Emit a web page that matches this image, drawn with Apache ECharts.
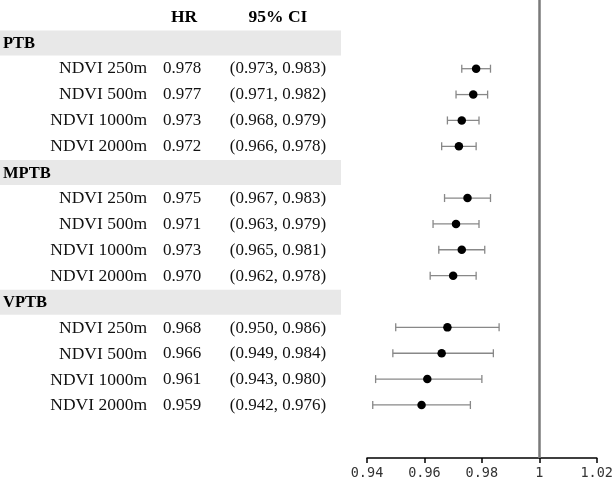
<!DOCTYPE html>
<html>
<head>
<meta charset="utf-8">
<script src="https://cdn.jsdelivr.net/npm/echarts@6/dist/echarts.min.js"></script>
<style>html,body{margin:0;padding:0;background:#fff}#c{width:616px;height:480px}</style>
</head>
<body>
<div id="c"></div>
<script>
var groups = ['PTB', 'MPTB', 'VPTB'];
var exposures = ['NDVI 250m', 'NDVI 500m', 'NDVI 1000m', 'NDVI 2000m'];
var hrValues = [
  [0.978, 0.977, 0.973, 0.972],
  [0.975, 0.971, 0.973, 0.970],
  [0.968, 0.966, 0.961, 0.959]
];
var ciLower = [
  [0.973, 0.971, 0.968, 0.966],
  [0.967, 0.963, 0.965, 0.962],
  [0.950, 0.949, 0.943, 0.942]
];
var ciUpper = [
  [0.983, 0.982, 0.979, 0.978],
  [0.983, 0.979, 0.981, 0.978],
  [0.986, 0.984, 0.980, 0.976]
];
var xTicks = [0.94, 0.96, 0.98, 1, 1.02];
var headers = ['HR', '95% CI'];

// build rows
var groupRows = [];   // [row, name]
var itemRows = [];    // [row, label, hr, lo, hi]
var r = 1;
groups.forEach(function (g, gi) {
  groupRows.push([r, g]);
  r++;
  exposures.forEach(function (e, ei) {
    itemRows.push([r, e, hrValues[gi][ei], ciLower[gi][ei], ciUpper[gi][ei]]);
    r++;
  });
});

var fmt3 = function (v) { return v.toFixed(3); };
var serif = 'Liberation Serif';
var COL_LABEL = 147, COL_HR = 182, COL_CI = 278;

var yAx = function (gi) {
  return { gridIndex: gi, type: 'value', inverse: true, min: -0.656, max: 17.05, show: false };
};

var chart = echarts.init(document.getElementById('c'));
chart.setOption({
  animation: false,
  grid: [
    { left: 0, right: 276, top: 0, bottom: 21 },
    { left: 367, right: 16, top: 0, bottom: 21 }
  ],
  xAxis: [
    { gridIndex: 0, type: 'value', min: 0, max: 340, show: false },
    {
      gridIndex: 1, type: 'value', min: 0.94, max: 1.02, interval: 0.02,
      axisLine: { show: true, onZero: false, lineStyle: { color: '#000', width: 1.5 } },
      axisTick: { show: true, inside: false, length: 5, lineStyle: { color: '#000', width: 1.5 } },
      splitLine: { show: false },
      axisLabel: {
        color: '#333', fontFamily: 'DejaVu Sans Mono', fontSize: 13.5, margin: 8,
        formatter: function (v) {
          var s = xTicks.filter(function (t) { return Math.abs(t - v) < 1e-9; });
          return s.length ? String(s[0]) : '';
        }
      }
    }
  ],
  yAxis: [yAx(0), yAx(1)],
  series: [
    {
      type: 'custom', xAxisIndex: 0, yAxisIndex: 0, silent: true,
      data: groupRows,
      renderItem: function (params, api) {
        var row = api.value(0);
        var p0 = api.coord([0, row]);
        var p1 = api.coord([340, row]);
        return {
          type: 'group',
          children: [
            { type: 'rect', shape: { x: p0[0], y: p0[1] - 12.5, width: p1[0] - p0[0] + 1, height: 25 },
              style: { fill: '#e8e8e8' } },
            { type: 'text', style: { x: p0[0] + 3, y: p0[1] + 1, text: groupRows[params.dataIndex][1],
              font: 'bold 16.5px ' + serif, fill: '#000', textAlign: 'left', textVerticalAlign: 'middle' } }
          ]
        };
      }
    },
    {
      type: 'custom', xAxisIndex: 0, yAxisIndex: 0, silent: true,
      data: [[0]],
      renderItem: function (params, api) {
        var pH = api.coord([COL_HR + 2, 0]);
        var pC = api.coord([COL_CI, 0]);
        return {
          type: 'group',
          children: [
            { type: 'text', style: { x: pH[0], y: pH[1], text: headers[0], font: 'bold 17.5px ' + serif,
              fill: '#000', textAlign: 'center', textVerticalAlign: 'middle' } },
            { type: 'text', style: { x: pC[0], y: pC[1], text: headers[1], font: 'bold 17.5px ' + serif,
              fill: '#000', textAlign: 'center', textVerticalAlign: 'middle' } }
          ]
        };
      }
    },
    {
      type: 'custom', xAxisIndex: 0, yAxisIndex: 0, silent: true,
      data: itemRows.map(function (d) { return [d[0]]; }),
      renderItem: function (params, api) {
        var d = itemRows[params.dataIndex];
        var row = api.value(0);
        var pL = api.coord([COL_LABEL, row]);
        var pH = api.coord([COL_HR, row]);
        var pC = api.coord([COL_CI, row]);
        var st = { fill: '#111', textVerticalAlign: 'middle' };
        return {
          type: 'group',
          children: [
            { type: 'text', style: Object.assign({ x: pL[0], y: pL[1], text: d[1], textAlign: 'right', font: '17.5px ' + serif }, st) },
            { type: 'text', style: Object.assign({ x: pH[0], y: pH[1], text: fmt3(d[2]), textAlign: 'center', font: '17px ' + serif }, st) },
            { type: 'text', style: Object.assign({ x: pC[0], y: pC[1], text: '(' + fmt3(d[3]) + ', ' + fmt3(d[4]) + ')', textAlign: 'center', font: '17px ' + serif }, st) }
          ]
        };
      }
    },
    {
      type: 'custom', xAxisIndex: 1, yAxisIndex: 1, silent: true,
      data: itemRows.map(function (d) { return [d[3], d[4], d[0]]; }),
      renderItem: function (params, api) {
        var a = api.coord([api.value(0), api.value(2)]);
        var b = api.coord([api.value(1), api.value(2)]);
        var ls = { stroke: '#888', lineWidth: 1.3 };
        return {
          type: 'group',
          children: [
            { type: 'line', shape: { x1: a[0], y1: a[1], x2: b[0], y2: b[1] }, style: ls },
            { type: 'line', shape: { x1: a[0], y1: a[1] - 4, x2: a[0], y2: a[1] + 4 }, style: ls },
            { type: 'line', shape: { x1: b[0], y1: b[1] - 4, x2: b[0], y2: b[1] + 4 }, style: ls }
          ]
        };
      }
    },
    {
      type: 'scatter', xAxisIndex: 1, yAxisIndex: 1, silent: true,
      symbol: 'circle', symbolSize: 8.5,
      itemStyle: { color: '#000', opacity: 1 },
      data: itemRows.map(function (d) { return [d[2], d[0]]; }),
      markLine: {
        silent: true, symbol: 'none', label: { show: false },
        lineStyle: { color: '#7a7a7a', width: 2.5, type: 'solid' },
        data: [{ xAxis: 1 }]
      }
    }
  ]
});
</script>
</body>
</html>
